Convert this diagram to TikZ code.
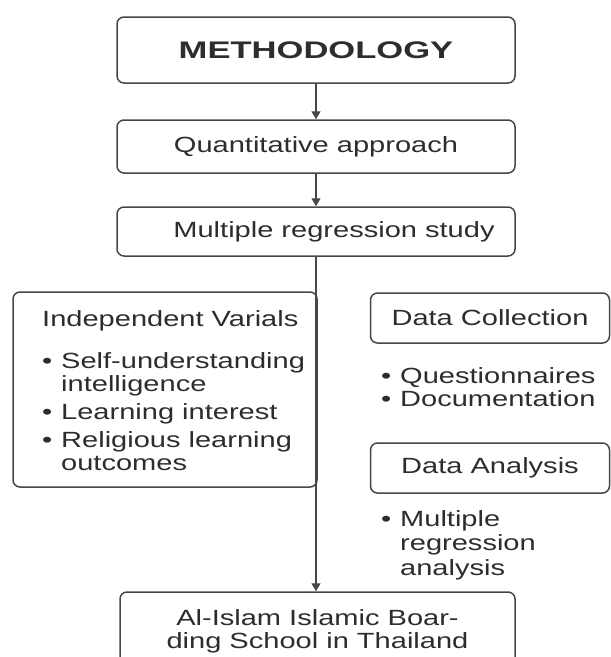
\documentclass[tikz,border=0pt]{standalone}
\usepackage{fontspec}
\setmainfont{Liberation Sans}[FakeStretch=1.32]
\newfontfamily\titlefont{Liberation Sans}[FakeStretch=1.44]
\definecolor{ink}{RGB}{45,45,45}
\definecolor{rule}{RGB}{70,70,70}
\usetikzlibrary{arrows.meta}
\newcommand{\bodysize}{\fontsize{22}{23}\selectfont}
\newcommand{\dotitem}{\makebox[19pt][l]{\textbullet}}
\newcommand{\hang}{\hspace*{19pt}}
\tikzset{
  stage/.style={draw=rule, rounded corners=7pt, line width=1.5pt, inner sep=0pt,
              text=ink, font=\bodysize, align=center, minimum width=398pt},
  panel/.style={draw=rule, rounded corners=7pt, line width=1.5pt, inner sep=0pt,
              text=ink, font=\bodysize, align=center},
  notes/.style={inner sep=0pt, text=ink, font=\bodysize, align=left, anchor=north west},
  flow/.style={-{Triangle[length=8pt,width=9pt]}, rule, line width=1.3pt},
}
\begin{document}
\begin{tikzpicture}[x=1pt,y=-1pt]
        \useasboundingbox (0,0) rectangle (611,657);
        \clip (0,0) rectangle (611,657);
        \node[stage,minimum height=66pt,font=\titlefont\bfseries\fontsize{24}{26}\selectfont] (meth) at (316,50) {METHODOLOGY};
        \node[stage,minimum height=53pt] (quant) at (316,146.5) {Quantitative approach};
        \node[stage,minimum height=49pt] (mult) at (316,231.5) {\hspace*{36pt}Multiple regression study};
        \node[panel,minimum width=304pt,minimum height=195pt] (indep) at (165,389.5) {};
        \node[notes] (indeplist) at (42,310) {Independent Varials\\[19pt]\dotitem Self-understanding\\\hang intelligence\\[5pt]\dotitem Learning interest\\[5pt]\dotitem Religious learning\\\hang outcomes};
        \node[panel,minimum width=239pt,minimum height=50pt] (dcol) at (490,318) {Data Collection};
        \node[notes] (dcollist) at (381,367) {\dotitem Questionnaires\\\dotitem Documentation};
        \node[panel,minimum width=239pt,minimum height=50pt] (dana) at (490,468) {Data Analysis};
        \node[notes,font=\fontsize{22}{24.5}\selectfont] (danalist) at (381,510) {\dotitem Multiple\\\hang regression\\\hang analysis};
        \node[stage,minimum width=395pt,minimum height=78pt] (school) at (317.5,631) {Al-Islam Islamic Boar-\\ding School in Thailand};
        \draw[flow] (meth) -- (quant);
        \draw[flow] (quant) -- (mult);
        \draw[flow] (mult.south) -- (mult.south |- school.north);
      \end{tikzpicture}
\end{document}
